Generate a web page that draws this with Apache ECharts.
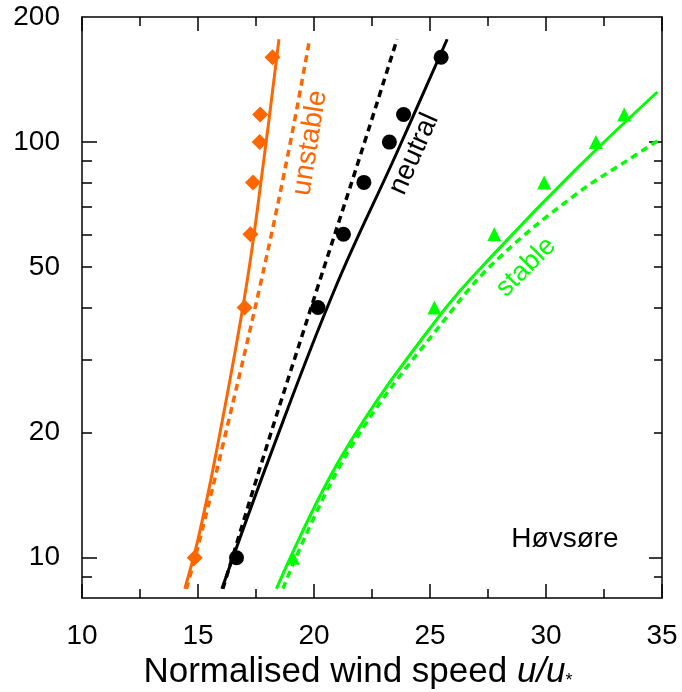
<!DOCTYPE html>
<html>
<head>
<meta charset="utf-8">
<script src="https://cdn.jsdelivr.net/npm/echarts@6/dist/echarts.min.js"></script>
<style>
  html, body { margin: 0; padding: 0; background: #fff; }
  #main { width: 682px; height: 692px; }
</style>
</head>
<body>
<div id="main"></div>
<script>
var dom = document.getElementById('main');
var myChart = echarts.init(dom);
var FONT = '"Liberation Sans", Arial, sans-serif';

// measurement heights (m)
var heights = [10, 40, 60, 80, 100, 116.5, 160];
// observed normalised wind speed u/u*
var unstableObs = [14.86, 17.01, 17.26, 17.37, 17.66, 17.68, 18.21];
var neutralObs = [16.66, 20.17, 21.27, 22.15, 23.25, 23.86, 25.48];
var stableObs = [19.09, 25.19, 27.77, 29.92, 32.15, 33.37];

// profile curves, solid
var unstableFitZ = [8.42, 11.07, 17.73, 44.2, 90.9, 176.8];
var unstableFitU = [14.43, 15.00, 15.77, 17.06, 17.84, 18.49];
var neutralFitZ = [8.42, 17.73, 44.2, 93.5, 176.8];
var neutralFitU = [16.03, 18.13, 20.89, 23.54, 25.74];
var stableFitZ = [8.42, 17.73, 38.15, 55.2, 86.0, 132.0];
var stableFitU = [18.38, 21.24, 25.40, 27.94, 31.29, 34.80];

// profile curves, dashed
var unstableDashZ = [8.42, 11.07, 18.75, 45.5, 93.5, 176.8];
var unstableDashU = [14.50, 15.08, 16.08, 17.69, 18.88, 19.81];
var neutralDashZ = [8.42, 18.44, 44.98, 94.5, 176.8];
var neutralDashU = [16.07, 17.95, 20.17, 22.04, 23.58];
var stableDashZ = [8.43, 18.22, 39.6, 53.2, 74.9, 90.9, 100.6];
var stableDashU = [18.66, 21.53, 25.98, 28.06, 31.29, 33.58, 34.80];

var yLabels = [10, 20, 50, 100, 200];
var yMajorTicks = [10, 100];
var yMinorTicks = [9, 20, 30, 40, 50, 60, 70, 80, 90];

var orange = '#ff6600';
var green = '#00ff00';
var black = '#000000';

function pairs(u, z) {
    var out = [];
    for (var i = 0; i < u.length; i++) out.push([u[i], z[i]]);
    return out;
}

function xAx(pos, showLabel) {
    return {
        type: 'value',
        position: pos,
        min: 10,
        max: 35,
        interval: 5,
        axisLine: {show: true, lineStyle: {color: black, width: 1.5}},
        axisTick: {show: true, inside: true, length: 14, lineStyle: {color: black, width: 1.5}},
        minorTick: {show: true, splitNumber: 2, length: 9, lineStyle: {color: black, width: 1.5}},
        splitLine: {show: false},
        minorSplitLine: {show: false},
        axisLabel: {
            show: showLabel,
            margin: 24,
            fontSize: 28,
            color: black,
            fontFamily: FONT,
            showMinLabel: true,
            showMaxLabel: true
        }
    };
}

function yAx(pos, ticks, len, labels, line) {
    return {
        type: 'log',
        logBase: 10,
        position: pos,
        min: 8,
        max: 200,
        axisLine: {show: line, lineStyle: {color: black, width: 1.5}},
        axisTick: {show: true, inside: true, length: len, customValues: ticks, lineStyle: {color: black, width: 1.5}},
        splitLine: {show: false},
        axisLabel: labels ? {
            show: true,
            customValues: labels,
            margin: 22,
            fontSize: 28,
            color: black,
            fontFamily: FONT
        } : {show: false}
    };
}

var bottomX = xAx('bottom', true);
bottomX.name = 'Normalised wind speed {it|u/u}{sub|*}';
bottomX.nameLocation = 'middle';
bottomX.nameGap = 52;
bottomX.nameTextStyle = {
    fontSize: 35,
    color: black,
    fontFamily: FONT,
    padding: [0, 28, 0, 0],
    rich: {
        it: {fontSize: 35, fontStyle: 'italic', fontFamily: FONT, color: black},
        sub: {fontSize: 18, fontFamily: FONT, color: black, verticalAlign: 'bottom'}
    }
};

function curve(name, u, z, color, dashed) {
    return {
        name: name,
        type: 'line',
        data: pairs(u, z),
        symbol: 'none',
        smooth: 0.4,
        xAxisIndex: 0,
        yAxisIndex: 0,
        lineStyle: {color: color, width: dashed ? 3.5 : 3, type: dashed ? [7, 5] : 'solid'},
        z: 2,
        silent: true
    };
}

function obs(name, u, symbol, size, color) {
    return {
        name: name,
        type: 'scatter',
        data: pairs(u, heights.slice(0, u.length)),
        symbol: symbol,
        symbolSize: size,
        itemStyle: {color: color, opacity: 1},
        xAxisIndex: 0,
        yAxisIndex: 0,
        z: 5
    };
}

option = {
    backgroundColor: '#ffffff',
    animation: false,
    grid: {left: 82, right: 20, top: 17, bottom: 94, containLabel: false, outerBoundsMode: 'none'},
    xAxis: [bottomX, xAx('top', false)],
    yAxis: [
        yAx('left', yMajorTicks, 15, yLabels, true),
        yAx('left', yMinorTicks, 10, null, false),
        yAx('right', yMajorTicks, 13, null, true),
        yAx('right', yMinorTicks, 8, null, false)
    ],
    series: [
        curve('unstable fit', unstableFitU, unstableFitZ, orange, false),
        curve('unstable model', unstableDashU, unstableDashZ, orange, true),
        curve('neutral fit', neutralFitU, neutralFitZ, black, false),
        curve('neutral model', neutralDashU, neutralDashZ, black, true),
        curve('stable fit', stableFitU, stableFitZ, green, false),
        curve('stable model', stableDashU, stableDashZ, green, true),
        obs('unstable', unstableObs, 'diamond', 16, orange),
        obs('neutral', neutralObs, 'circle', 15, black),
        obs('stable', stableObs, 'triangle', 14, green)
    ],
    graphic: [
        {type: 'text', x: 310, y: 143, rotation: 81 * Math.PI / 180,
            style: {text: 'unstable', fill: orange, font: '28px ' + FONT, align: 'center', verticalAlign: 'middle', textAlign: 'center', textVerticalAlign: 'middle'}},
        {type: 'text', x: 414, y: 154, rotation: 66 * Math.PI / 180,
            style: {text: 'neutral', fill: black, font: '28px ' + FONT, align: 'center', verticalAlign: 'middle', textAlign: 'center', textVerticalAlign: 'middle'}},
        {type: 'text', x: 526, y: 267, rotation: 45 * Math.PI / 180,
            style: {text: 'stable', fill: green, font: '27px ' + FONT, align: 'center', verticalAlign: 'middle', textAlign: 'center', textVerticalAlign: 'middle'}},
        {type: 'text', x: 565, y: 539,
            style: {text: 'Høvsøre', fill: black, font: '28px ' + FONT, align: 'center', verticalAlign: 'middle', textAlign: 'center', textVerticalAlign: 'middle'}}
    ]
};

if (option && typeof option === 'object') {
    myChart.setOption(option, true);
}
</script>
</body>
</html>
